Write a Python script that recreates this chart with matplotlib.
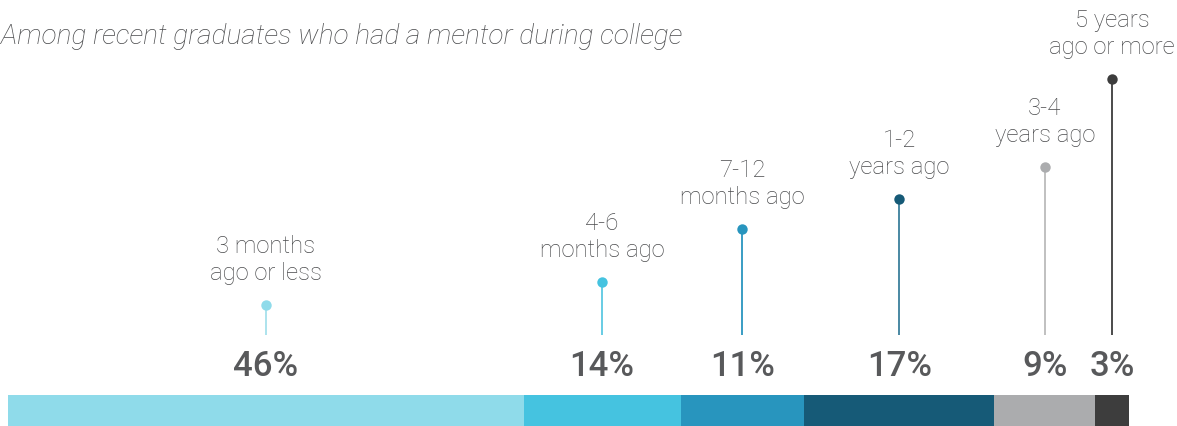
import matplotlib.pyplot as plt
import numpy as np

title = "Among recent graduates who had a mentor during college"
labels = ["3 months\nago or less", "4-6\nmonths ago", "7-12\nmonths ago",
          "1-2\nyears ago", "3-4\nyears ago", "5 years\nago or more"]
shares = [46, 14, 11, 17, 9, 3]
stem_height = [30, 53, 106, 136, 168, 256]

bar_colors = ["#8FDBEA", "#45C3E0", "#2895BE", "#165A77", "#ABACAE", "#3D3D3D"]
stem_colors = ["#A6E0EC", "#5CC8E2", "#2A95BF", "#3C7F9C", "#BBBBBB", "#3D3D3D"]

plt.rcParams['font.family'] = ['Roboto', 'DejaVu Sans']

fig = plt.figure(figsize=(11.77, 4.26), dpi=100)
ax = fig.add_axes([0, 0, 1, 1])
px = 11.21  # pixels per percent point
ax.set_xlim(-8 / px, (1177 - 8) / px)
ax.set_ylim(426, 0)
ax.axis('off')

left = np.concatenate([[0], np.cumsum(shares)[:-1]])
centers = left + np.array(shares) / 2

# stacked bar
ax.barh(411, shares, left=left, height=32, color=bar_colors, linewidth=0)

stem_base = 335
for i in range(len(shares)):
    x = centers[i]
    top = stem_base - stem_height[i]
    ax.plot([x, x], [stem_base, top], color=stem_colors[i], lw=1.3, solid_capstyle='butt')
    ax.plot(x, top, 'o', color=bar_colors[i], ms=7.5, mec='none')
    ax.text(x, top - 20, labels[i], ha='center', va='bottom', fontsize=17.2,
            color='#4A4B4D', linespacing=1.2, fontweight='light')
    ax.text(x, 366, f"{shares[i]}%", ha='center', va='center', fontsize=25,
            color='#58595B', fontweight='medium')

ax.text(-8 / px + 0.05, 36, title, ha='left', va='center', fontsize=20.2,
        style='italic', color='#4A4B4D', fontweight='light')

fig.savefig("out.png", dpi=100)
